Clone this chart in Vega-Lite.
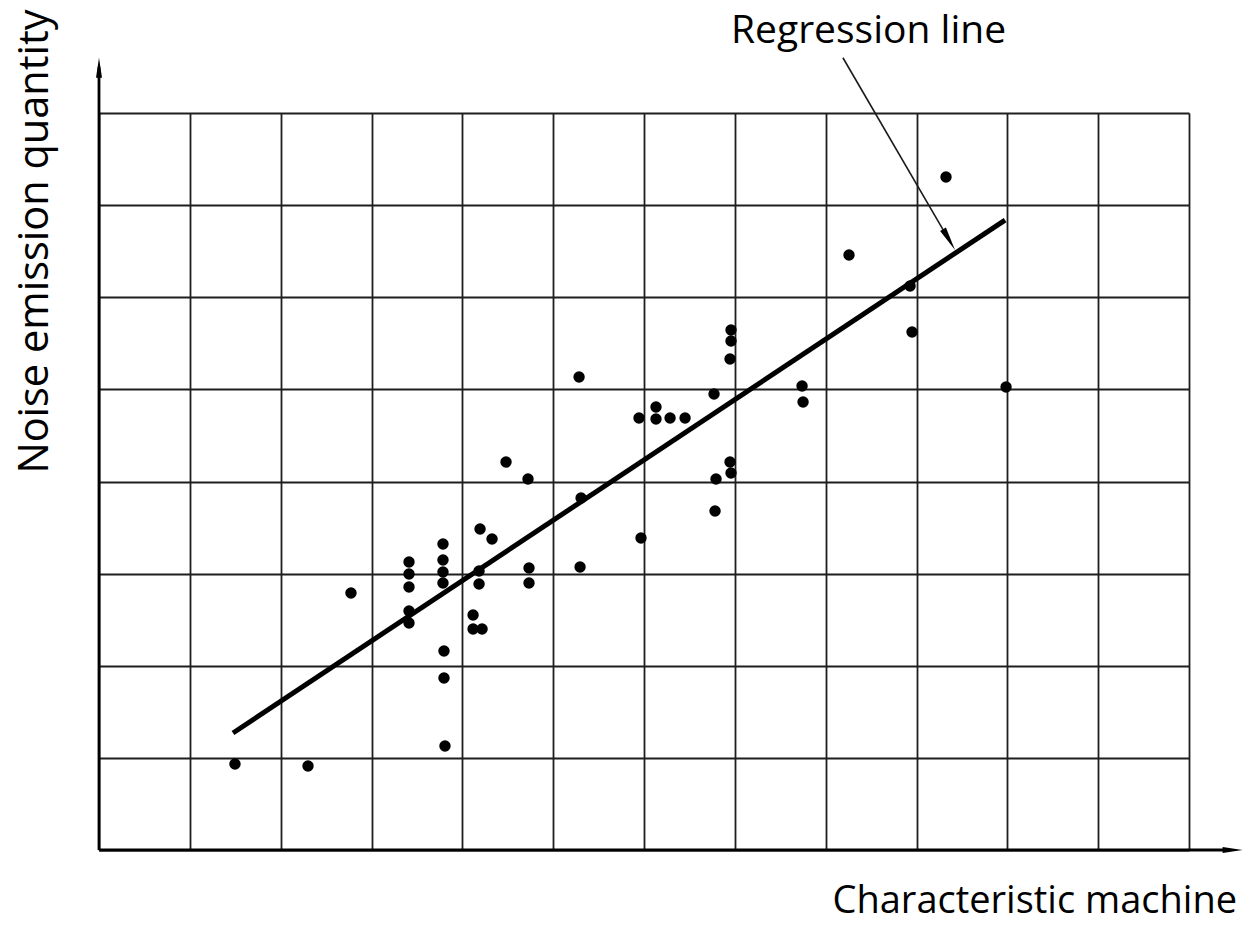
{
  "$schema": "https://vega.github.io/schema/vega-lite/v6.json",
  "width": 1090,
  "height": 737,
  "autosize": {"type": "none"},
  "padding": {"left": 99, "top": 113, "right": 54, "bottom": 76},
  "background": "white",
  "config": {
    "view": {"stroke": null},
    "font": "Open Sans",
    "axis": {
      "grid": true,
      "gridColor": "#1e1e1e",
      "gridWidth": 1.8,
      "gridOpacity": 1,
      "labels": false,
      "ticks": false,
      "domain": false,
      "titleFont": "Open Sans",
      "titleFontWeight": "normal",
      "titleColor": "black"
    }
  },
  "datasets": {
    "points": [
      {"machine": 1.497, "noise": 0.933},
      {"machine": 2.301, "noise": 0.912},
      {"machine": 2.774, "noise": 2.790},
      {"machine": 3.413, "noise": 3.126},
      {"machine": 3.413, "noise": 2.996},
      {"machine": 3.413, "noise": 2.855},
      {"machine": 3.413, "noise": 2.594},
      {"machine": 3.413, "noise": 2.464},
      {"machine": 3.787, "noise": 3.321},
      {"machine": 3.787, "noise": 3.148},
      {"machine": 3.787, "noise": 3.017},
      {"machine": 3.787, "noise": 2.898},
      {"machine": 3.798, "noise": 2.160},
      {"machine": 3.798, "noise": 1.867},
      {"machine": 3.809, "noise": 1.129},
      {"machine": 4.118, "noise": 2.551},
      {"machine": 4.118, "noise": 2.399},
      {"machine": 4.217, "noise": 2.399},
      {"machine": 4.195, "noise": 3.484},
      {"machine": 4.184, "noise": 3.028},
      {"machine": 4.184, "noise": 2.887},
      {"machine": 4.327, "noise": 3.376},
      {"machine": 4.481, "noise": 4.211},
      {"machine": 4.723, "noise": 4.027},
      {"machine": 4.734, "noise": 3.061},
      {"machine": 4.734, "noise": 2.898},
      {"machine": 5.285, "noise": 5.134},
      {"machine": 5.307, "noise": 3.821},
      {"machine": 5.296, "noise": 3.072},
      {"machine": 5.945, "noise": 4.689},
      {"machine": 5.967, "noise": 3.386},
      {"machine": 6.132, "noise": 4.808},
      {"machine": 6.132, "noise": 4.678},
      {"machine": 6.287, "noise": 4.689},
      {"machine": 6.452, "noise": 4.689},
      {"machine": 6.771, "noise": 4.950},
      {"machine": 6.793, "noise": 4.027},
      {"machine": 6.782, "noise": 3.680},
      {"machine": 6.958, "noise": 5.644},
      {"machine": 6.958, "noise": 5.525},
      {"machine": 6.947, "noise": 5.329},
      {"machine": 6.947, "noise": 4.211},
      {"machine": 6.958, "noise": 4.092},
      {"machine": 7.740, "noise": 5.036},
      {"machine": 7.751, "noise": 4.863},
      {"machine": 8.257, "noise": 6.458},
      {"machine": 8.929, "noise": 6.122},
      {"machine": 8.951, "noise": 5.622},
      {"machine": 9.325, "noise": 7.305},
      {"machine": 9.986, "noise": 5.025}
    ],
    "one": [{}]
  },
  "layer": [
    {
      "data": {"name": "points"},
      "mark": {"type": "circle", "size": 130, "color": "black", "opacity": 1},
      "encoding": {
        "x": {
          "field": "machine",
          "type": "quantitative",
          "scale": {"domain": [0, 12], "nice": false, "zero": false},
          "axis": {
            "values": [0, 1, 2, 3, 4, 5, 6, 7, 8, 9, 10, 11, 12],
            "title": "Characteristic machine",
            "titleFontSize": 38,
            "titleAlign": "left",
            "titleBaseline": "alphabetic",
            "titleAnchor": "start",
            "titleX": 733,
            "titleY": 62
          }
        },
        "y": {
          "field": "noise",
          "type": "quantitative",
          "scale": {"domain": [0, 8], "nice": false, "zero": false},
          "axis": {
            "values": [0, 1, 2, 3, 4, 5, 6, 7, 8],
            "title": "Noise emission quantity",
            "titleFontSize": 41.5,
            "titleAngle": -90,
            "titleAlign": "center",
            "titleBaseline": "alphabetic",
            "titleX": -52,
            "titleY": 128
          }
        }
      }
    },
    {
      "data": {"name": "one"},
      "mark": {"type": "rule", "color": "black", "strokeWidth": 2.8},
      "encoding": {
        "x": {"datum": 0, "type": "quantitative"},
        "x2": {"datum": 12.45},
        "y": {"datum": 0, "type": "quantitative"}
      }
    },
    {
      "data": {"name": "one"},
      "mark": {"type": "rule", "color": "black", "strokeWidth": 2.8},
      "encoding": {
        "x": {"datum": 0, "type": "quantitative"},
        "y": {"datum": 0, "type": "quantitative"},
        "y2": {"datum": 8.5}
      }
    },
    {
      "data": {"name": "one"},
      "mark": {"type": "point", "filled": true, "color": "black", "opacity": 1, "size": 400, "shape": "M-1,-0.3L1,0L-1,0.3Z"},
      "encoding": {
        "x": {"datum": 12.48, "type": "quantitative"},
        "y": {"datum": 0, "type": "quantitative"}
      }
    },
    {
      "data": {"name": "one"},
      "mark": {"type": "point", "filled": true, "color": "black", "opacity": 1, "size": 400, "shape": "M0,-1L0.3,1L-0.3,1Z"},
      "encoding": {
        "x": {"datum": 0, "type": "quantitative"},
        "y": {"datum": 8.49, "type": "quantitative"}
      }
    },
    {
      "data": {"name": "one"},
      "mark": {"type": "rule", "color": "black", "strokeWidth": 5, "strokeCap": "butt"},
      "encoding": {
        "x": {"datum": 1.475, "type": "quantitative"},
        "x2": {"datum": 9.975},
        "y": {"datum": 1.27, "type": "quantitative"},
        "y2": {"datum": 6.838}
      }
    },
    {
      "data": {"name": "one"},
      "mark": {"type": "rule", "color": "#1a1a1a", "strokeWidth": 1.6},
      "encoding": {
        "x": {"datum": 8.19, "type": "quantitative"},
        "x2": {"datum": 9.3},
        "y": {"datum": 8.6, "type": "quantitative"},
        "y2": {"datum": 6.72}
      }
    },
    {
      "data": {"name": "one"},
      "mark": {"type": "point", "filled": true, "color": "black", "opacity": 1, "size": 576, "angle": -30, "shape": "M0,1L0.28,-1L-0.28,-1Z"},
      "encoding": {
        "x": {"datum": 9.358, "type": "quantitative"},
        "y": {"datum": 6.625, "type": "quantitative"}
      }
    },
    {
      "data": {"name": "one"},
      "mark": {"type": "text", "text": "Regression line", "font": "Open Sans", "fontSize": 39, "color": "black", "align": "center", "baseline": "alphabetic"},
      "encoding": {
        "x": {"datum": 8.472, "type": "quantitative"},
        "y": {"datum": 8.765, "type": "quantitative"}
      }
    }
  ]
}
